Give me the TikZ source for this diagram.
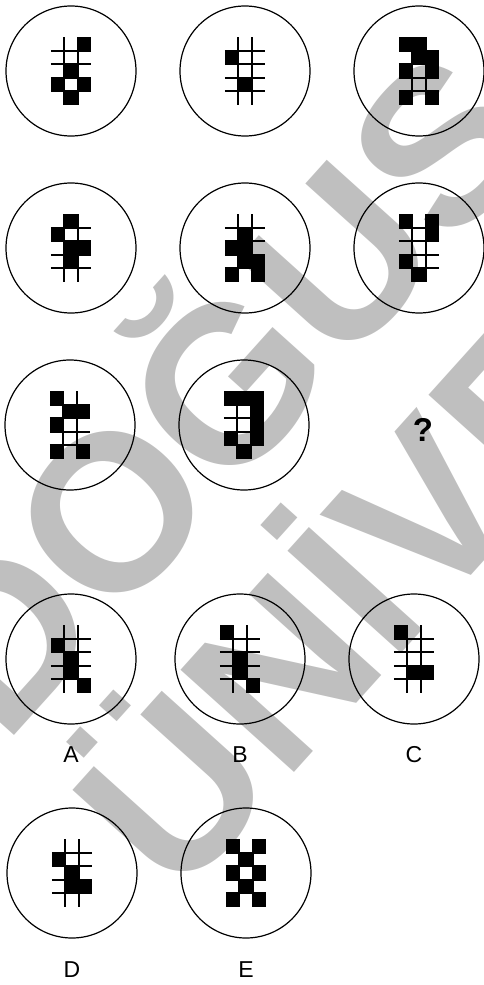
\documentclass[tikz,border=0pt]{standalone}
\usepackage{fontspec}
\setmainfont{Liberation Sans}

% pola kotak 3x5 di dalam lingkaran
\newcommand{\pola}[2]{%
  \begin{scope}[shift={(#1.center)}]
    \foreach \k/\b in {#2}
      \fill ({(\k-1)*13.5-20.25},{(\b-1)*13.5-33.75}) rectangle ++(13.5,13.5);
    \foreach \x in {-6.75,6.75}
      \draw[garis] (\x,-33.75) -- (\x,33.75);
    \foreach \y in {-20.25,-6.75,6.75,20.25}
      \draw[garis] (-20.25,\y) -- (20.25,\y);
  \end{scope}}

\begin{document}
\begin{tikzpicture}[x=1pt, y=-1pt, node distance=174pt,
    lingkar/.style={draw, circle, minimum size=130pt, inner sep=0pt, line width=1.2pt},
    garis/.style={line width=1.8pt},
    huruf/.style={inner sep=0pt, font=\fontsize{23}{23}\selectfont},
    tanda/.style={text=black!25, inner sep=0pt, anchor=base west, rotate=48,
      font=\fontsize{222}{222}\selectfont\bfseries}]
  \useasboundingbox (0,0) rectangle (483,985);
  % tanda air
  \node[tanda] (tanda1) at (4,747) {DOĞUŞ};
  \node[tanda] (tanda2) at (177,903) {ÜNİVERSİTESİ};
  % soal
  \node[lingkar] (soal1) at (71,71) {};
  \node[lingkar, right of=soal1] (soal2) {};
  \node[lingkar, right of=soal2] (soal3) {};
  \node[lingkar] (soal4) at (71,248) {};
  \node[lingkar, right of=soal4] (soal5) {};
  \node[lingkar, right of=soal5] (soal6) {};
  \node[lingkar] (soal7) at (70,425) {};
  \node[lingkar, right of=soal7] (soal8) {};
  \node[right of=soal8, xshift=5pt, yshift=-5pt, inner sep=0pt,
    font=\fontsize{33}{33}\selectfont\bfseries] (tanya) {?};
  % pilihan
  \node[lingkar] (pilA) at (71,659) {};
  \node[lingkar, right of=pilA, xshift=-5pt] (pilB) {};
  \node[lingkar, right of=pilB] (pilC) {};
  \node[lingkar] (pilD) at (72,873) {};
  \node[lingkar, right of=pilD] (pilE) {};
  \pola{soal1}{3/1,2/3,1/4,3/4,2/5}
  \pola{soal2}{1/2,2/4}
  \pola{soal3}{1/1,2/1,2/2,3/2,1/3,3/3,1/5,3/5}
  \pola{soal4}{2/1,1/2,2/3,3/3,2/4}
  \pola{soal5}{2/2,1/3,2/3,2/4,3/4,1/5,3/5}
  \pola{soal6}{1/1,3/1,3/2,1/4,2/5}
  \pola{soal7}{1/1,2/2,3/2,1/3,1/5,3/5}
  \pola{soal8}{1/1,2/1,3/1,3/2,3/3,1/4,3/4,2/5}
  \pola{pilA}{1/2,2/3,2/4,3/5}
  \pola{pilB}{1/1,2/3,2/4,3/5}
  \pola{pilC}{1/1,2/4,3/4}
  \pola{pilD}{1/2,2/3,2/4,3/4}
  \pola{pilE}{1/1,3/1,2/2,1/3,3/3,2/4,1/5,3/5}
  % label
  \node[huruf, below of=pilA, node distance=96pt] (hurufA) {A};
  \node[huruf, below of=pilB, node distance=96pt] (hurufB) {B};
  \node[huruf, below of=pilC, node distance=96pt] (hurufC) {C};
  \node[huruf, below of=pilD, node distance=97pt] (hurufD) {D};
  \node[huruf, below of=pilE, node distance=97pt] (hurufE) {E};
\end{tikzpicture}
\end{document}
